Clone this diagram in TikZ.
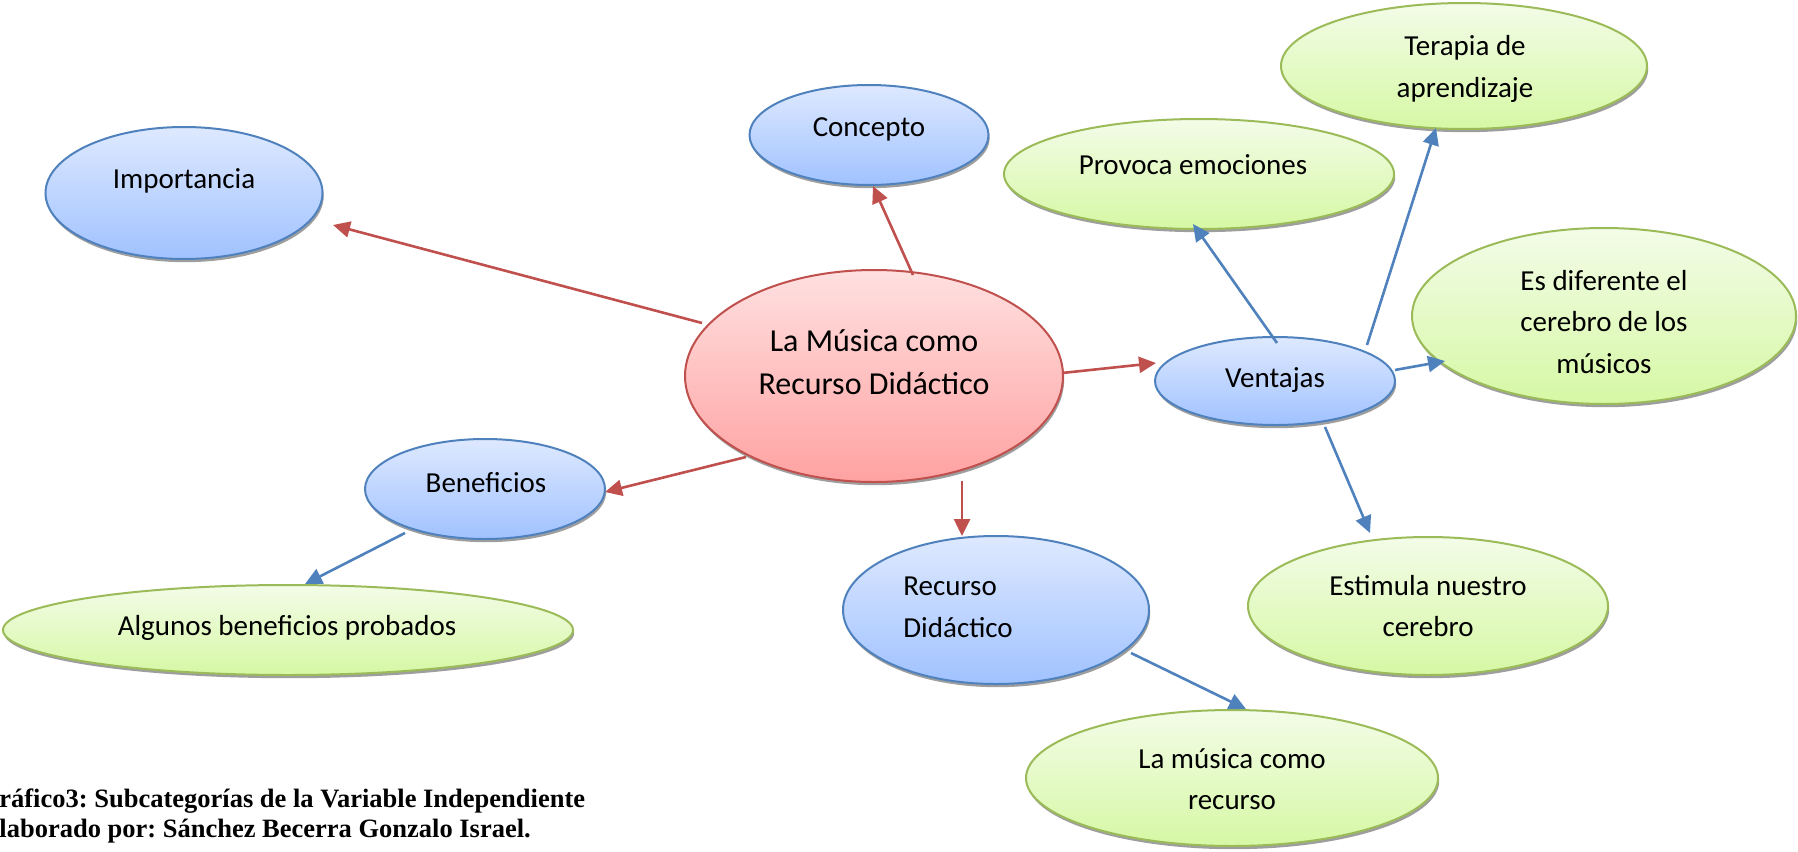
\documentclass[tikz,border=0pt]{standalone}
\usepackage{fontspec}
\setmainfont{Carlito}
\newfontfamily\capfont{Liberation Serif}
\usetikzlibrary{shapes.geometric,shadows,arrows.meta}
\definecolor{bbord}{RGB}{79,129,189}
\definecolor{btop}{RGB}{222,233,255}
\definecolor{bbot}{RGB}{160,194,255}
\definecolor{rbord}{RGB}{192,80,77}
\definecolor{rtop}{RGB}{255,224,224}
\definecolor{rbot}{RGB}{255,162,162}
\definecolor{gbord}{RGB}{155,187,89}
\definecolor{gtop}{RGB}{243,252,232}
\definecolor{gbot}{RGB}{214,248,164}
\frenchspacing
\tikzset{
  ell/.style={ellipse, inner sep=0pt, line width=1pt,
    drop shadow={shadow xshift=0.6pt, shadow yshift=-1.6pt, fill=black!38, opacity=1}},
  blueell/.style={ell, draw=bbord, top color=btop, bottom color=bbot},
  redell/.style={ell, draw=rbord, top color=rtop, bottom color=rbot},
  greenell/.style={ell, draw=gbord, top color=gtop, bottom color=gbot},
  txt/.style={inner sep=0pt, align=center, font=\fontsize{14.5}{20.8}\selectfont},
  bigtxt/.style={inner sep=0pt, align=center, font=\fontsize{16}{21.5}\selectfont},
  redarr/.style={draw=rbord, line width=1.3pt, -{Triangle[length=8.5pt,width=8pt]}},
  bluearr/.style={draw=bbord, line width=1.3pt, -{Triangle[length=8.5pt,width=8pt]}},
  captxt/.style={inner sep=0pt, anchor=base west, font=\capfont\bfseries\fontsize{13.25}{15}\selectfont}
}
\begin{document}
\begin{tikzpicture}[x=0.5pt, y=-0.5pt]
\useasboundingbox (0,0) rectangle (1798,851);
% ellipses (minimum width = rx pt, minimum height = ry pt at 0.5pt/px)
\node[blueell, minimum width=277pt*0.5, minimum height=132pt*0.5] (imp) at (184,193) {};
\node[blueell, minimum width=239pt*0.5, minimum height=100pt*0.5] (con) at (869,135) {};
\node[redell, minimum width=378pt*0.5, minimum height=212pt*0.5] (cen) at (874,376) {};
\node[blueell, minimum width=240pt*0.5, minimum height=100pt*0.5] (ben) at (485,489) {};
\node[greenell, minimum width=570pt*0.5, minimum height=90pt*0.5] (alg) at (288,630) {};
\node[blueell, minimum width=306pt*0.5, minimum height=148pt*0.5] (rec) at (996,610) {};
\node[greenell, minimum width=412pt*0.5, minimum height=136pt*0.5] (lam) at (1232,778) {};
\node[blueell, minimum width=240pt*0.5, minimum height=88pt*0.5] (ven) at (1275,381) {};
\node[greenell, minimum width=390pt*0.5, minimum height=110pt*0.5] (pro) at (1199,174) {};
\node[greenell, minimum width=366pt*0.5, minimum height=126pt*0.5] (ter) at (1464,66) {};
\node[greenell, minimum width=384pt*0.5, minimum height=176pt*0.5] (esd) at (1604,316) {};
\node[greenell, minimum width=360pt*0.5, minimum height=138pt*0.5] (est) at (1428,606) {};
% texts
\node[txt] (imp-t) at (184,181) {Importancia};
\node[txt] (con-t) at (869,129) {Concepto};
\node[bigtxt] (cen-t) at (874,362) {La Música como\\Recurso Didáctico};
\node[txt] (ben-t) at (486,483) {Beneficios};
\node[txt] (alg-t) at (287,628) {Algunos beneficios probados};
\node[txt, align=left, anchor=west] (rec-t) at (903,607) {Recurso\\Didáctico};
\node[txt] (lam-t) at (1232,779) {La música como\\recurso};
\node[txt] (ven-t) at (1275,380) {Ventajas};
\node[txt] (pro-t) at (1193,165) {Provoca emociones};
\node[txt] (ter-t) at (1465,69) {Terapia de\\aprendizaje};
\node[txt] (esd-t) at (1604,322) {Es diferente el\\cerebro de los\\músicos};
\node[txt] (est-t) at (1428,606) {Estimula nuestro\\cerebro};
% connector end points
\coordinate (a1s) at (702,323); \coordinate (a1e) at (333,225);
\coordinate (a2s) at (913,275); \coordinate (a2e) at (873,186);
\coordinate (a3s) at (746,457); \coordinate (a3e) at (605,492);
\coordinate (a4s) at (962,481); \coordinate (a4e) at (962,536);
\coordinate (a5s) at (1062,373); \coordinate (a5e) at (1156,363);
\coordinate (a6s) at (405,533); \coordinate (a6e) at (305,584);
\coordinate (a7s) at (1131,653); \coordinate (a7e) at (1246,709);
\coordinate (a8s) at (1325,427); \coordinate (a8e) at (1370,533);
\coordinate (a9s) at (1277,343); \coordinate (a9e) at (1193,224);
\coordinate (a10s) at (1367,345); \coordinate (a10e) at (1436,128);
\coordinate (a11s) at (1395,370); \coordinate (a11e) at (1445,361);
\draw[redarr] (a1s) -- (a1e);
\draw[redarr] (a2s) -- (a2e);
\draw[redarr] (a3s) -- (a3e);
\draw[redarr] (a4s) -- (a4e);
\draw[redarr] (a5s) -- (a5e);
\draw[bluearr] (a6s) -- (a6e);
\draw[bluearr] (a7s) -- (a7e);
\draw[bluearr] (a8s) -- (a8e);
\draw[bluearr] (a9s) -- (a9e);
\draw[bluearr] (a10s) -- (a10e);
\draw[bluearr] (a11s) -- (a11e);
% caption
\node[captxt] (cap1) at (-1,807) {ráfico3: Subcategorías de la Variable Independiente};
\node[captxt] (cap2) at (-1,837) {laborado por: Sánchez Becerra Gonzalo Israel.};
\end{tikzpicture}
\end{document}
